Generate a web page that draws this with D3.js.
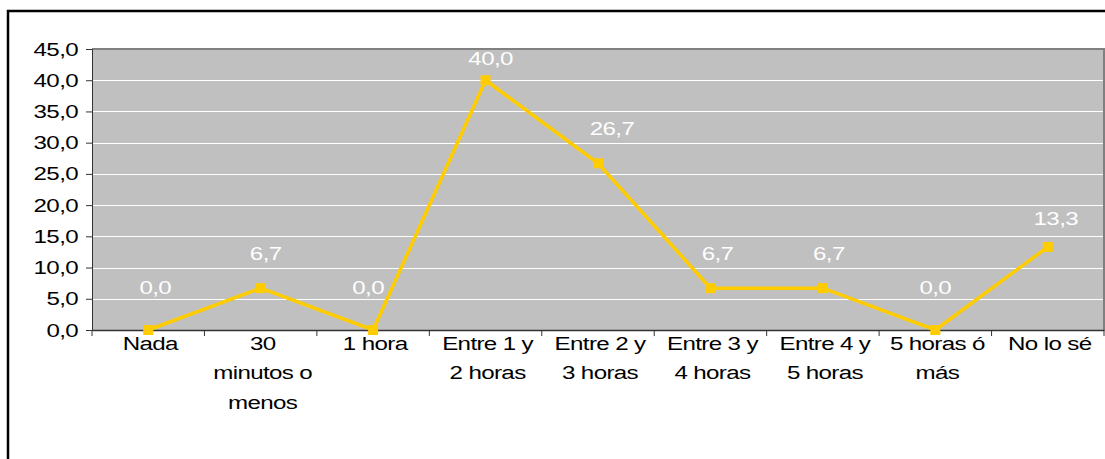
<!DOCTYPE html>
<html><head><meta charset="utf-8">
<script src="https://cdn.jsdelivr.net/npm/d3@7"></script>
<style>
html,body{margin:0;padding:0;background:#fff;overflow:hidden}
text{font-family:"Liberation Sans",Arial,sans-serif}
</style></head>
<body>
<svg id="c" width="1105" height="459"></svg>
<script>
const categories = ["Nada","30 minutos o menos","1 hora","Entre 1 y 2 horas","Entre 2 y 3 horas","Entre 3 y 4 horas","Entre 4 y 5 horas","5 horas ó más","No lo sé"];
const categoryLines = [["Nada"],["30","minutos o","menos"],["1 hora"],["Entre 1 y","2 horas"],["Entre 2 y","3 horas"],["Entre 3 y","4 horas"],["Entre 4 y","5 horas"],["5 horas ó","más"],["No lo sé"]];
const values = [0.0, 6.7, 0.0, 40.0, 26.7, 6.7, 6.7, 0.0, 13.3];
const yTicks = [0,5,10,15,20,25,30,35,40,45];

const svg = d3.select("#c");
const plot = {left: 92, right: 1104, top: 49, bottom: 330};
const FS = 19, SX = 1.27, LS = "-0.5";

// chart frame
svg.append("rect").attr("x",8).attr("y",11).attr("width",1200).attr("height",600)
  .attr("fill","#fff").attr("stroke","#000").attr("stroke-width",2.5);

const x = d3.scaleBand().domain(categories).range([plot.left, plot.right]).padding(0);
const y = d3.scaleLinear().domain([0,45]).range([plot.bottom, plot.top]);
const fmt = v => d3.format(".1f")(v).replace(".", ",");
const cx = i => x(categories[i]) + x.bandwidth()/2;

// plot area
svg.append("rect").attr("x",plot.left).attr("y",plot.top)
  .attr("width",plot.right-plot.left).attr("height",plot.bottom-plot.top)
  .attr("fill","#C0C0C0");

// gridlines
svg.append("g").selectAll("line").data(yTicks.filter(d=>d>0 && d<45)).join("line")
  .attr("x1",plot.left).attr("x2",plot.right)
  .attr("y1",d=>Math.round(y(d))+0.5).attr("y2",d=>Math.round(y(d))+0.5)
  .attr("stroke","#fff").attr("stroke-width",1);

// plot border top/right
svg.append("path")
  .attr("d",`M${plot.left},${plot.top}H${plot.right}V${plot.bottom}`)
  .attr("fill","none").attr("stroke","#808080").attr("stroke-width",2);

// y axis
const yAxis = d3.axisLeft(y).tickValues(yTicks).tickFormat(fmt).tickSize(6).tickPadding(7);
const gy = svg.append("g").attr("transform",`translate(${plot.left},0)`).call(yAxis);
gy.select(".domain").attr("stroke","#333").attr("stroke-width",1);
gy.selectAll(".tick line").attr("stroke","#333");
gy.selectAll("text").attr("font-size",FS).attr("fill","#000")
  .attr("font-family","'Liberation Sans',Arial,sans-serif").attr("letter-spacing",LS)
  .attr("x",-14/SX).attr("transform",`scale(${SX},1)`);

// x axis
const xAxis = d3.axisBottom(x).tickSize(0).tickFormat("");
const gx = svg.append("g").attr("transform",`translate(0,${plot.bottom})`).call(xAxis);
gx.select(".domain").attr("stroke","#333").attr("stroke-width",1.5);
const bounds = categories.map(c=>x(c)).concat([plot.right]);
svg.append("g").selectAll("line").data(bounds).join("line")
  .attr("x1",d=>d).attr("x2",d=>d).attr("y1",plot.bottom).attr("y2",plot.bottom+6)
  .attr("stroke","#333").attr("stroke-width",1);

// x labels
categoryLines.forEach((lines,i)=>{
  const g = svg.append("g").attr("transform",`translate(${cx(i)+2},${plot.bottom+20})`);
  const t = g.append("text").attr("transform",`scale(${SX},1)`)
    .attr("font-size",FS).attr("fill","#000")
    .attr("text-anchor","middle").attr("letter-spacing",LS);
  lines.forEach((l,j)=>t.append("tspan").attr("x",0).attr("dy",j?29.5:0).text(l));
});

// line
const line = d3.line().x((d,i)=>cx(i)).y(d=>y(d));
svg.append("path").datum(values).attr("d",line).attr("fill","none")
  .attr("stroke","#FFCC00").attr("stroke-width",3.5).attr("stroke-linejoin","miter");

// markers
svg.append("g").selectAll("rect").data(values).join("rect")
  .attr("x",(d,i)=>cx(i)-5).attr("y",d=>y(d)-5).attr("width",10).attr("height",10)
  .attr("fill","#FFCC00");

// data labels (Excel-style manual nudges)
const nudgeX = [7,5,-5,5,14,7,6,0,8];
const nudgeY = [43,35,43,22,35,35,35,43,29];
const dl = svg.append("g").selectAll("g").data(values).join("g")
  .attr("transform",(d,i)=>`translate(${cx(i)+nudgeX[i]},${y(d)-nudgeY[i]+7})`);
dl.append("text").attr("transform",`scale(${SX},1)`)
  .attr("text-anchor","middle").attr("font-size",FS).attr("fill","#fff")
  .attr("letter-spacing",LS)
  .text(d=>fmt(d));
</script>
</body></html>
